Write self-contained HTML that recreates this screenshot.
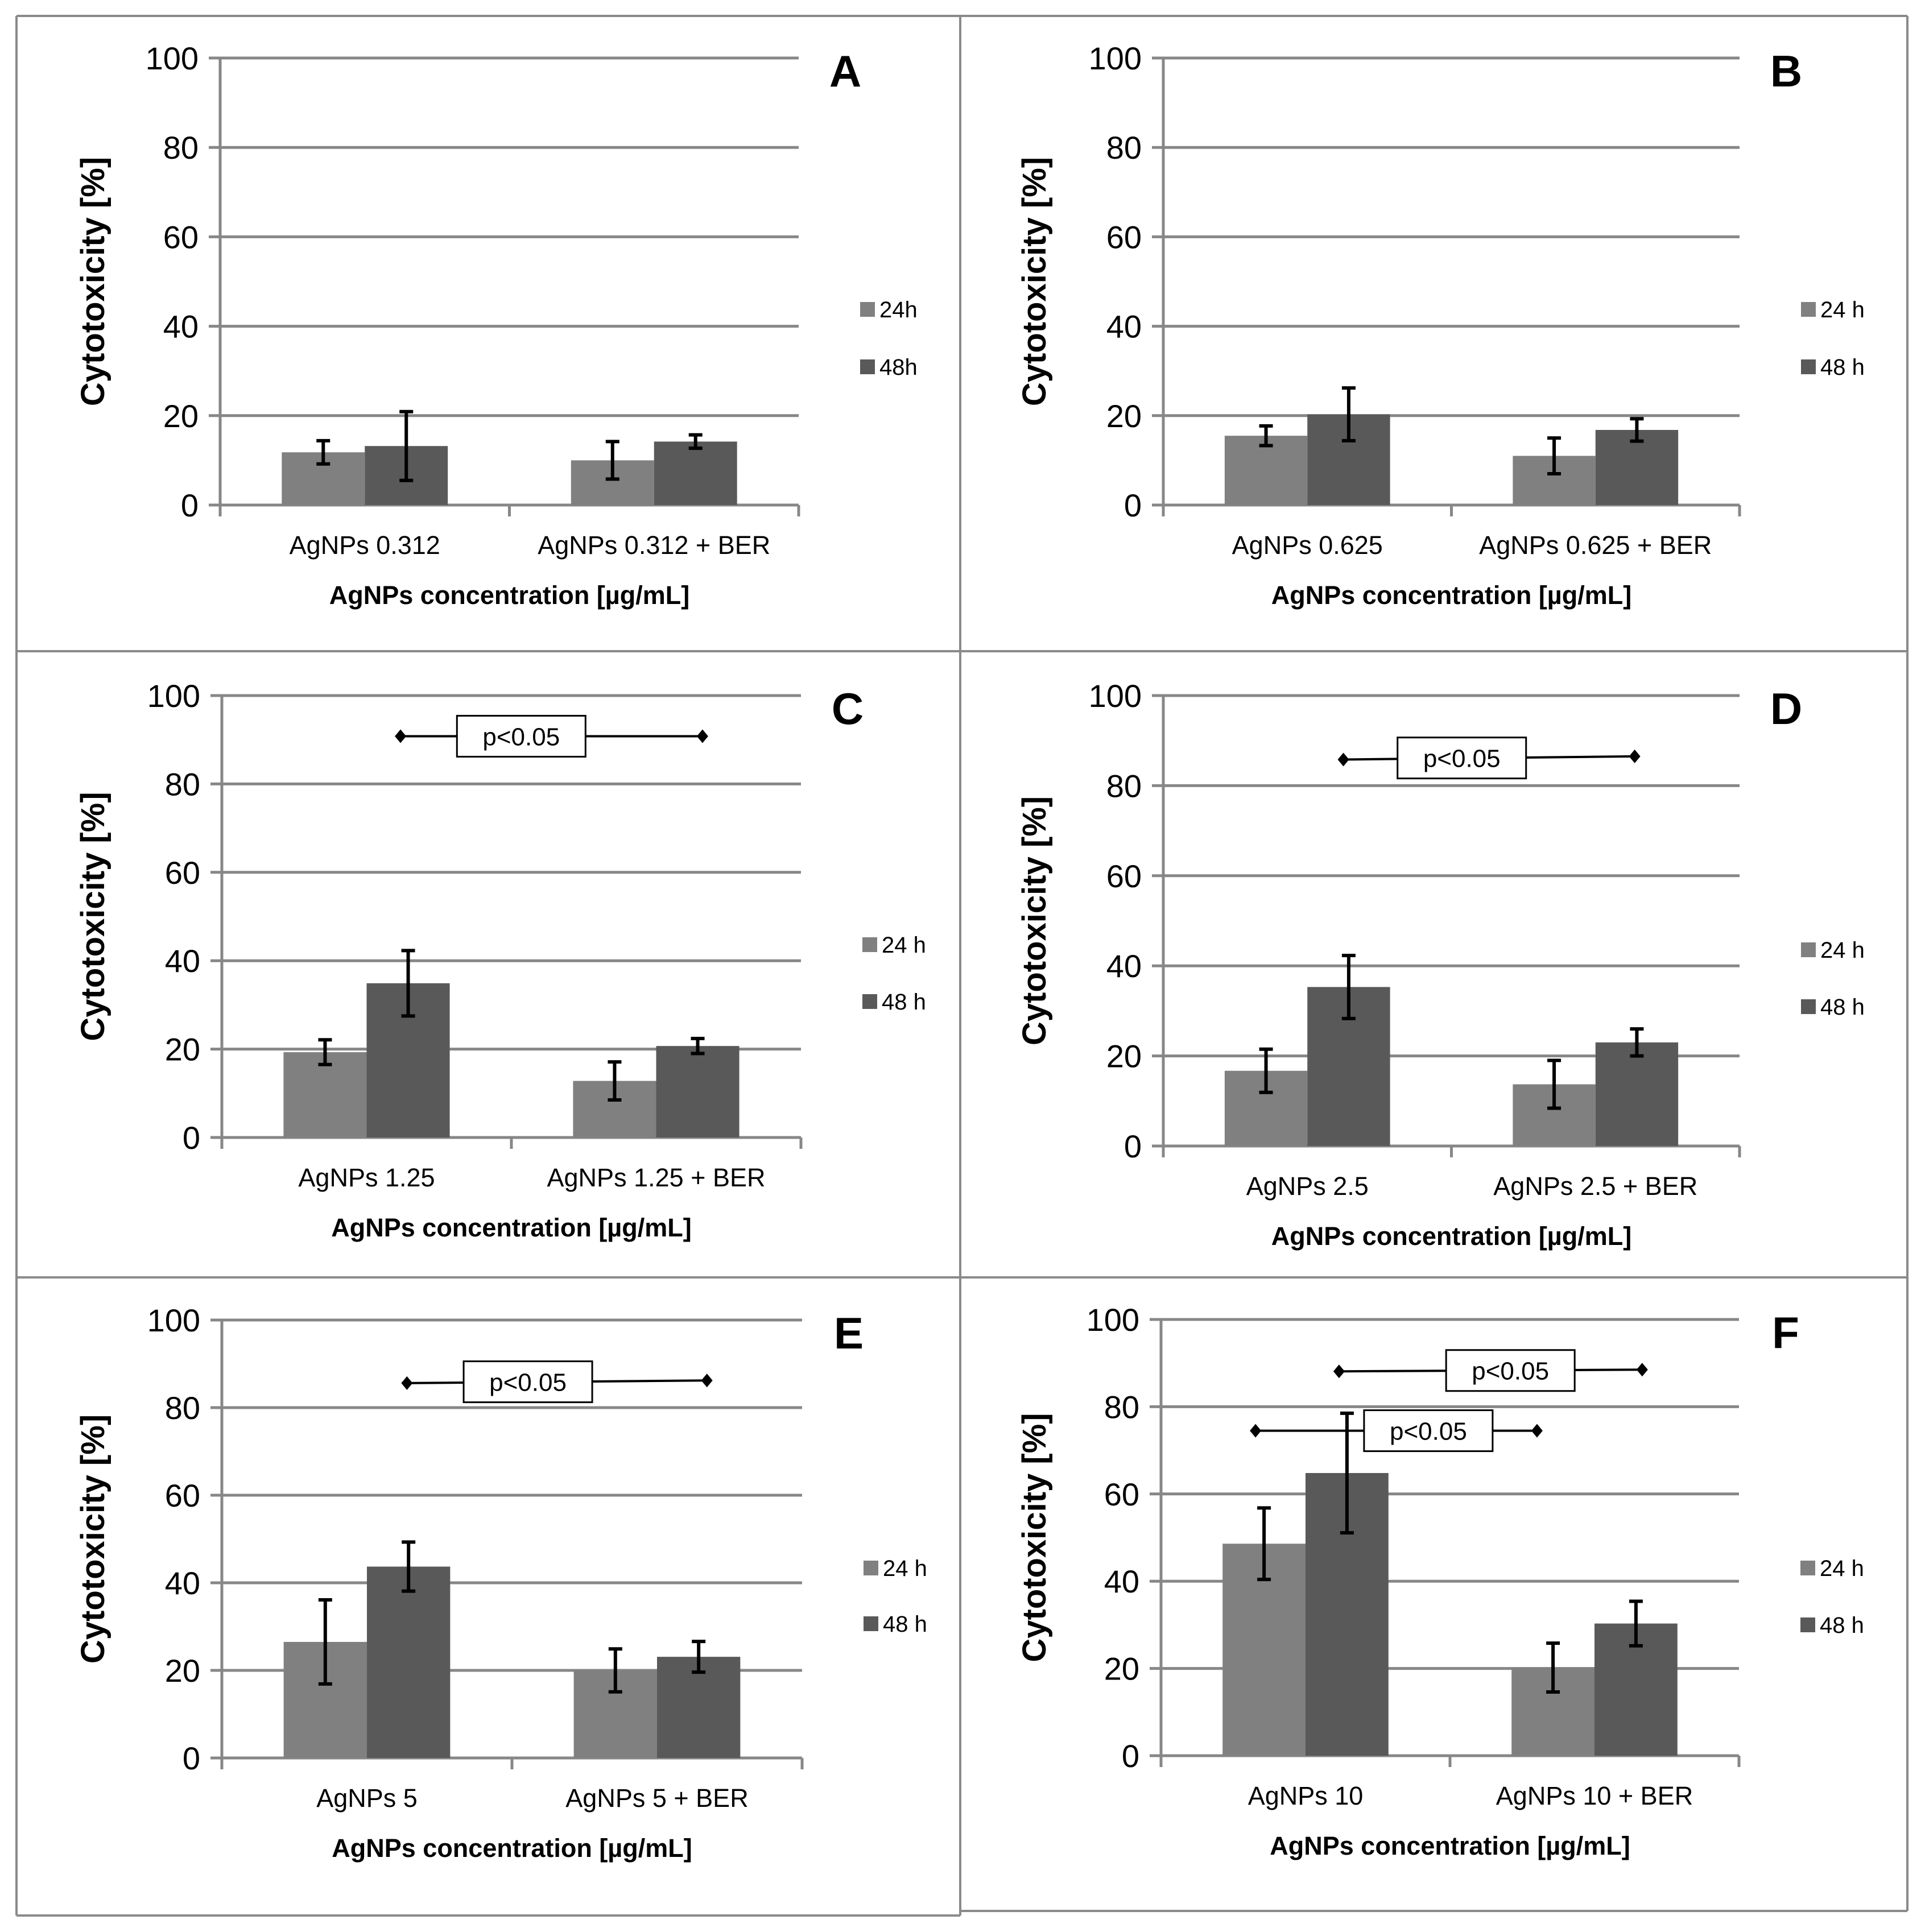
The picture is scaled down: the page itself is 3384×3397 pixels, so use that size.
<!DOCTYPE html>
<html><head><meta charset="utf-8"><style>
html,body{margin:0;padding:0;background:#fff;}
svg{display:block;font-family:"Liberation Sans",sans-serif;}
</style></head><body>
<svg id="fig" width="3384" height="3397" viewBox="0 0 3384 3397" xmlns="http://www.w3.org/2000/svg">
<rect width="3384" height="3397" fill="#fff"/>
<g stroke="#8a8a8a" stroke-width="4" fill="none">
<line x1="29" y1="28" x2="3353" y2="28"/>
<line x1="29" y1="28" x2="29" y2="3368"/>
<line x1="29" y1="3368" x2="1688" y2="3368"/>
<line x1="1688" y1="3360" x2="3353" y2="3360"/>
<line x1="3353" y1="28" x2="3353" y2="3360"/>
<line x1="1688" y1="28" x2="1688" y2="3368"/>
<line x1="29" y1="1145" x2="3353" y2="1145"/>
<line x1="29" y1="2246" x2="3353" y2="2246"/>
</g>
</svg>
<script>
const panelLetters = ['A','B','C','D','E','F'];
const catLabels = [
 ['AgNPs 0.312','AgNPs 0.312 + BER'],
 ['AgNPs 0.625','AgNPs 0.625 + BER'],
 ['AgNPs 1.25','AgNPs 1.25 + BER'],
 ['AgNPs 2.5','AgNPs 2.5 + BER'],
 ['AgNPs 5','AgNPs 5 + BER'],
 ['AgNPs 10','AgNPs 10 + BER']
];
const legendLabels = [['24h','48h'],['24 h','48 h'],['24 h','48 h'],['24 h','48 h'],['24 h','48 h'],['24 h','48 h']];
const v24 = [[11.8,10.0],[15.5,11.0],[19.3,12.8],[16.7,13.7],[26.5,20.0],[48.6,20.2]];
const e24 = [[2.6,4.2],[2.2,4.0],[2.8,4.3],[4.8,5.3],[9.6,4.9],[8.2,5.6]];
const v48 = [[13.2,14.2],[20.3,16.8],[34.9,20.7],[35.3,23.0],[43.7,23.1],[64.8,30.3]];
const e48 = [[7.7,1.5],[5.9,2.5],[7.4,1.7],[7.0,3.0],[5.6,3.5],[13.7,5.1]];
const yTicks = [0,20,40,60,80,100];
const sigPanel = [2,3,4,5,5];
const sigYL = [90.8,85.8,85.6,88.1,74.5];
const sigYR = [90.8,86.5,86.2,88.5,74.5];
const sigXL = [0.617,0.625,0.638,0.616,0.327];
const sigXR = [1.66,1.636,1.672,1.665,1.301];
const sigXC = [1.034,1.036,1.055,1.209,0.925];
const sigText = ['p<0.05','p<0.05','p<0.05','p<0.05','p<0.05'];

const frames = [
 {ax:387,right:1404,top:102,bot:888,ytx:163},
 {ax:2045,right:3058,top:102,bot:888,ytx:1818},
 {ax:390,right:1408,top:1223,bot:2000,ytx:163},
 {ax:2045,right:3058,top:1223,bot:2015,ytx:1818},
 {ax:390,right:1410,top:2321,bot:3091,ytx:163},
 {ax:2041,right:3057,top:2320,bot:3087,ytx:1818}
];
const legY = [[544,645],[544,645],[1661,1761],[1670,1770],[2757,2855],[2757,2857]];

const svg = document.getElementById('fig');
const NS = 'http://www.w3.org/2000/svg';
function mk(tag, attrs, parent, txt){
  const e = document.createElementNS(NS, tag);
  for (const k in attrs) e.setAttribute(k, attrs[k]);
  if (txt !== undefined) e.textContent = txt;
  parent.appendChild(e);
  return e;
}

frames.forEach((f, p) => {
  const g = mk('g', {}, svg);
  
  
  const yS = v => f.bot - (v / 100) * (f.bot - f.top);
  const catW = (f.right - f.ax) / 2;
  const xS = c => f.ax + c * catW;
  yTicks.forEach(t => {
    const l = mk('line', {x1:f.ax-20, x2:f.right, y1:yS(t), y2:yS(t), stroke:'#878787', 'stroke-width':5}, g);
    
    
    const tl = mk('text', {x:f.ax-38, y:yS(t)+20, 'text-anchor':'end', 'font-size':56, fill:'#000'}, g, String(t));
    
    
  });
  const ya = mk('line', {x1:f.ax, x2:f.ax, y1:f.top, y2:f.bot+20, stroke:'#878787', 'stroke-width':5}, g);
  
  
  [0,1,2].forEach(c => {
    const tk = mk('line', {x1:xS(c), x2:xS(c), y1:f.bot, y2:f.bot+20, stroke:'#878787', 'stroke-width':5}, g);
    
    
  });
  const bw = 0.287 * catW;
  [0,1].forEach(c => {
    const cx = xS(c + 0.5);
    [[v24,e24,'#808080',-1,'24h'],[v48,e48,'#595959',0,'48h']].forEach(([vv,ee,col,off,nm]) => {
      const v = vv[p][c], e = ee[p][c];
      const x0 = cx + off * bw;
      const r = mk('rect', {x:x0, y:yS(v), width:bw, height:yS(0)-yS(v), fill:col}, g);
      
      
      const ex = x0 + bw / 2;
      const eg = mk('g', {stroke:'#000', 'stroke-width':6}, g);
      
      
      mk('line', {x1:ex, x2:ex, y1:yS(v+e), y2:yS(v-e)}, eg);
      mk('line', {x1:ex-12, x2:ex+12, y1:yS(v+e), y2:yS(v+e)}, eg);
      mk('line', {x1:ex-12, x2:ex+12, y1:yS(v-e), y2:yS(v-e)}, eg);
    });
    const cl = mk('text', {x:cx, y:f.bot+86, 'text-anchor':'middle', 'font-size':45}, g, catLabels[p][c]);
    
    
  });
  const xt = mk('text', {x:(f.ax+f.right)/2, y:f.bot+174, 'text-anchor':'middle', 'font-size':45, 'font-weight':'bold'}, g, 'AgNPs concentration [µg/mL]');
  
  
  const cy = (f.top + f.bot) / 2;
  const yt = mk('text', {x:f.ytx, y:cy, 'text-anchor':'middle', 'font-size':58, 'font-weight':'bold', transform:`rotate(-90 ${f.ytx} ${cy}) translate(0 20)`}, g, 'Cytotoxicity [%]');
  
  
  const pl = mk('text', {x:f.right+82, y:f.top+50, 'text-anchor':'middle', 'font-size':78, 'font-weight':'bold'}, g, panelLetters[p]);
  
  
  [0,1].forEach(i => {
    const lg = mk('g', {}, g);
    
    
    mk('rect', {x:f.right+108, y:legY[p][i]-13, width:26, height:26, fill:i ? '#595959' : '#808080'}, lg);
    mk('text', {x:f.right+142, y:legY[p][i]+14, 'font-size':40}, lg, legendLabels[p][i]);
  });
  sigPanel.forEach((sp, k) => {
    if (sp !== p) return;
    const sg = mk('g', {}, g);
    
    
    const x1 = xS(sigXL[k]), x2 = xS(sigXR[k]), y1 = yS(sigYL[k]), y2 = yS(sigYR[k]);
    mk('line', {x1:x1, y1:y1, x2:x2, y2:y2, stroke:'#000', 'stroke-width':4}, sg);
    [[x1,y1],[x2,y2]].forEach(([dx,dy]) => {
      mk('polygon', {points:`${dx},${dy-12} ${dx+10},${dy} ${dx},${dy+12} ${dx-10},${dy}`, fill:'#000'}, sg);
    });
    const bx = xS(sigXC[k]), by = (y1 + y2) / 2;
    mk('rect', {x:bx-113, y:by-36, width:226, height:72, fill:'#fff', stroke:'#000', 'stroke-width':3}, sg);
    mk('text', {x:bx, y:by+16, 'text-anchor':'middle', 'font-size':44}, sg, sigText[k]);
  });
});
</script>
</body></html>
